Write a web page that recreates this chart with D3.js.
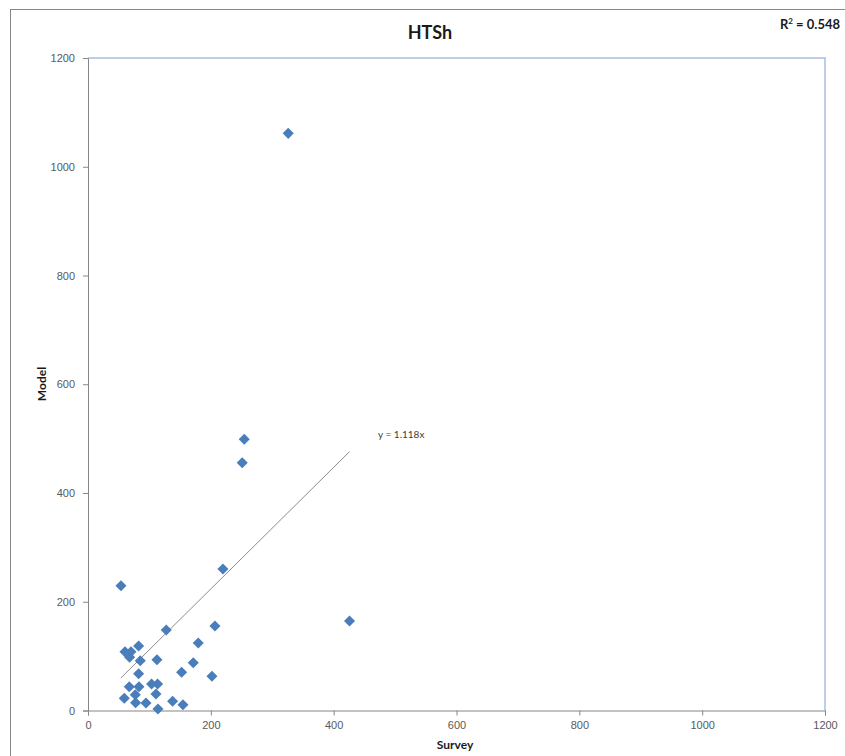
<!DOCTYPE html>
<html>
<head>
<meta charset="utf-8">
<script src="https://cdn.jsdelivr.net/npm/d3@7"></script>
<style>
  html, body { margin: 0; padding: 0; background: #fff; }
  svg { display: block; }
  text { font-family: Lato, "Open Sans", sans-serif; }
</style>
</head>
<body>
<script>
// Survey vs model values (HTSh)
const surveyValues = [53.7, 219.7, 127.4, 206.7, 179.5, 60.2, 70.0, 67.7, 82.4, 85.1,
                      112.3, 171.4, 152.4, 82.4, 201.8, 67.2, 83.0, 103.5, 113.3, 110.7,
                      77.0, 59.1, 77.5, 94.4, 137.7, 154.6, 113.9, 254.4, 251.1, 425.8, 326.0];
const modelValues  = [229.5, 260.2, 148.0, 155.4, 124.1, 108.2, 108.0, 97.8, 118.6, 91.6,
                      93.4, 87.9, 70.2, 67.7, 62.9, 43.8, 43.8, 48.7, 48.7, 30.3,
                      29.1, 22.4, 14.3, 13.8, 16.9, 10.7, 2.8, 498.7, 455.7, 164.6, 1061.4];
const xTicks = [0, 200, 400, 600, 800, 1000, 1200];
const yTicks = [0, 200, 400, 600, 800, 1000, 1200];
const trendSlope = 1.118;
const rSquared = "0.548";

const W = 845, H = 756;
const svg = d3.select("body").append("svg").attr("width", W).attr("height", H);

// Outer chart border
svg.append("rect").attr("x", 10.5).attr("y", 9.5).attr("width", W + 10).attr("height", H + 10)
  .attr("fill", "#fff").attr("stroke", "#868686").attr("stroke-width", 1);

const x = d3.scaleLinear().domain([0, 1200]).range([88, 825]);
const y = d3.scaleLinear().domain([0, 1200]).range([710.5, 58]);

// Plot area border (top and right)
svg.append("path")
  .attr("d", `M${x(0)},${y(1200)}H${x(1200)}V${y(0)}`)
  .attr("fill", "none").attr("stroke", "#a7c0de").attr("stroke-width", 1.5);

// Axes
const xAxis = svg.append("g").attr("transform", `translate(0,${y(0)})`)
  .call(d3.axisBottom(x).tickValues(xTicks).tickSize(5).tickPadding(6).tickFormat(d3.format("d")));
const yAxis = svg.append("g").attr("transform", `translate(${x(0)},0)`)
  .call(d3.axisLeft(y).tickValues(yTicks).tickSize(5).tickPadding(8).tickFormat(d3.format("d")));
[xAxis, yAxis].forEach(g => {
  g.select(".domain").attr("stroke", "#868686");
  g.selectAll(".tick line").attr("stroke", "#868686");
  g.selectAll(".tick text").attr("fill", "#595959").style("font-size", "11px")
    .style("font-family", "'Liberation Sans', sans-serif");
});

// Trend line y = 1.118x across the data range
const xMin = d3.min(surveyValues), xMax = d3.max(surveyValues);
svg.append("line")
  .attr("x1", x(xMin)).attr("y1", y(trendSlope * xMin))
  .attr("x2", x(xMax)).attr("y2", y(trendSlope * xMax))
  .attr("stroke", "#8c8c8c").attr("stroke-width", 1);

svg.append("text").attr("x", 378).attr("y", 438)
  .attr("fill", "#404040").style("font-size", "10px")
  .text(`y = ${trendSlope}x`);

// Diamond markers
const diamond = d3.symbol().type(d3.symbolDiamond2).size(78);
svg.append("g").selectAll("path")
  .data(surveyValues.map((v, i) => [v, modelValues[i]]))
  .join("path")
  .attr("transform", d => `translate(${x(d[0])},${y(d[1])})`)
  .attr("d", diamond)
  .attr("fill", "#4a7ebb");

// Titles
svg.append("text").attr("x", 430).attr("y", 39).attr("text-anchor", "middle")
  .style("font-size", "18px").style("font-weight", "bold").attr("fill", "#1a1a1a").text("HTSh");

const r2 = svg.append("text").attr("x", 840).attr("y", 29).attr("text-anchor", "end")
  .style("font-size", "13px").style("font-weight", "bold").attr("fill", "#1a1a1a");
r2.append("tspan").text("R");
r2.append("tspan").attr("dy", -5).style("font-size", "8px").text("2");
r2.append("tspan").attr("dy", 5).text(" = " + rSquared);

svg.append("text").attr("transform", "translate(46,384) rotate(-90)").attr("text-anchor", "middle")
  .style("font-size", "12px").style("font-weight", "bold").attr("fill", "#1a1a1a").text("Model");

svg.append("text").attr("x", 455).attr("y", 749).attr("text-anchor", "middle")
  .style("font-size", "12px").style("font-weight", "bold").attr("fill", "#1a1a1a").text("Survey");
</script>
</body>
</html>
